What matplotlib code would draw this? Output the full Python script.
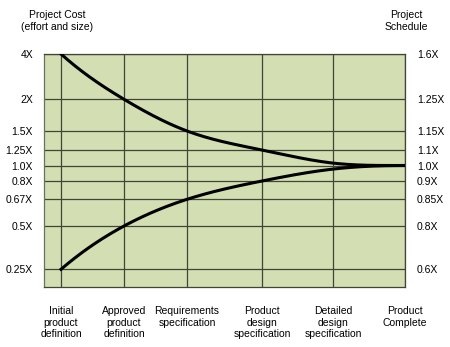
import numpy as np
import matplotlib.pyplot as plt

# stages along the bottom
stages = ['Initial\nproduct\ndefinition', 'Approved\nproduct\ndefinition',
          'Requirements\nspecification', 'Product\ndesign\nspecification',
          'Detailed\ndesign\nspecification', 'Product\nComplete']

# left axis (cost) and right axis (schedule) tick values
cost_ticks = [4, 2, 1.5, 1.25, 1.0, 0.8, 0.67, 0.5, 0.25]
cost_labels = ['4X', '2X', '1.5X', '1.25X', '1.0X', '0.8X', '0.67X', '0.5X', '0.25X']
sched_labels = ['1.6X', '1.25X', '1.15X', '1.1X', '1.0X', '0.9X', '0.85X', '0.8X', '0.6X']

# the cone: upper and lower bound of cost at each stage
upper = [4, 2, 1.5, 1.25, 1.035, 1.0]
lower = [0.25, 0.5, 0.67, 0.8, 0.95, 1.0]

# layout: where stages and tick rows sit (the chart is not on a true log scale)
stage_x = np.array([0, 1, 2, 3.19, 4.32, 5.46])
tick_y = np.array([233, 187.7, 156, 137, 121.5, 106, 87.7, 61, 17.7])


def to_y(v):
    # map a value to the row layout through its log
    lv = np.log(np.asarray(v, dtype=float))
    lt = np.log(np.array(cost_ticks))[::-1]
    return np.interp(lv, lt, tick_y[::-1])


def spline(x, y, xs, d0, dn):
    # clamped cubic spline, end slopes d0 and dn
    n = len(x)
    h = np.diff(x)
    A = np.zeros((n, n))
    b = np.zeros(n)
    A[0, 0], A[0, 1] = 2 * h[0], h[0]
    b[0] = 6 * ((y[1] - y[0]) / h[0] - d0)
    A[-1, -2], A[-1, -1] = h[-1], 2 * h[-1]
    b[-1] = 6 * (dn - (y[-1] - y[-2]) / h[-1])
    for i in range(1, n - 1):
        A[i, i - 1], A[i, i], A[i, i + 1] = h[i - 1], 2 * (h[i - 1] + h[i]), h[i]
        b[i] = 6 * ((y[i + 1] - y[i]) / h[i] - (y[i] - y[i - 1]) / h[i - 1])
    M = np.linalg.solve(A, b)
    i = np.clip(np.searchsorted(x, xs, side='right') - 1, 0, n - 2)
    t1 = x[i + 1] - xs
    t0 = xs - x[i]
    return (M[i] * t1**3 + M[i + 1] * t0**3) / (6 * h[i]) \
        + (y[i] / h[i] - M[i] * h[i] / 6) * t1 + (y[i + 1] / h[i] - M[i + 1] * h[i] / 6) * t0


plt.rcParams['font.family'] = ['Liberation Sans', 'DejaVu Sans']
fig = plt.figure(figsize=(4.5, 3.47), dpi=100)
ax = fig.add_axes([44 / 450, 60 / 347, 361 / 450, 233 / 347])
ax.set_facecolor('#d3deb2')
ax.set_xlim(-0.27, 5.46)
ax.set_ylim(0, 233)

grid_c = '#3f4636'
for y in tick_y:
    ax.axhline(y, color=grid_c, lw=0.9, zorder=1)
for x in stage_x:
    ax.axvline(x, color=grid_c, lw=0.9, zorder=1)

xs = np.linspace(stage_x[0], stage_x[-1], 300)
for vals in (upper, lower):
    py = to_y(vals)
    d0 = 1.25 * (py[1] - py[0]) / (stage_x[1] - stage_x[0])
    ax.plot(xs, spline(stage_x, py, xs, d0, 0.0), color='black', lw=2.2, zorder=3)

for s in ax.spines.values():
    s.set_color(grid_c)
    s.set_linewidth(0.9)
ax.spines['left'].set_color('#6b6e66')

ax.set_yticks(tick_y)
ax.set_yticklabels(cost_labels, fontsize=7.5)
ax.tick_params(axis='y', length=0, pad=8)
ax.set_xticks(stage_x)
ax.set_xticklabels(stages, fontsize=7.5, linespacing=1.15, va='top')
ax.tick_params(axis='x', length=0, pad=14)

ax2 = ax.twinx()
ax2.set_ylim(0, 233)
ax2.set_yticks(tick_y)
ax2.set_yticklabels(sched_labels, fontsize=7.5)
ax2.tick_params(axis='y', length=0, pad=8.5)
for s in ax2.spines.values():
    s.set_visible(False)

fig.text(57 / 450, 1 - 21 / 347, 'Project Cost\n(effort and size)', ha='center', va='center',
         fontsize=7.5, linespacing=1.15)
fig.text(406 / 450, 1 - 21 / 347, 'Project\nSchedule', ha='center', va='center',
         fontsize=7.5, linespacing=1.15)

fig.savefig('out.png', dpi=100, facecolor='white')
